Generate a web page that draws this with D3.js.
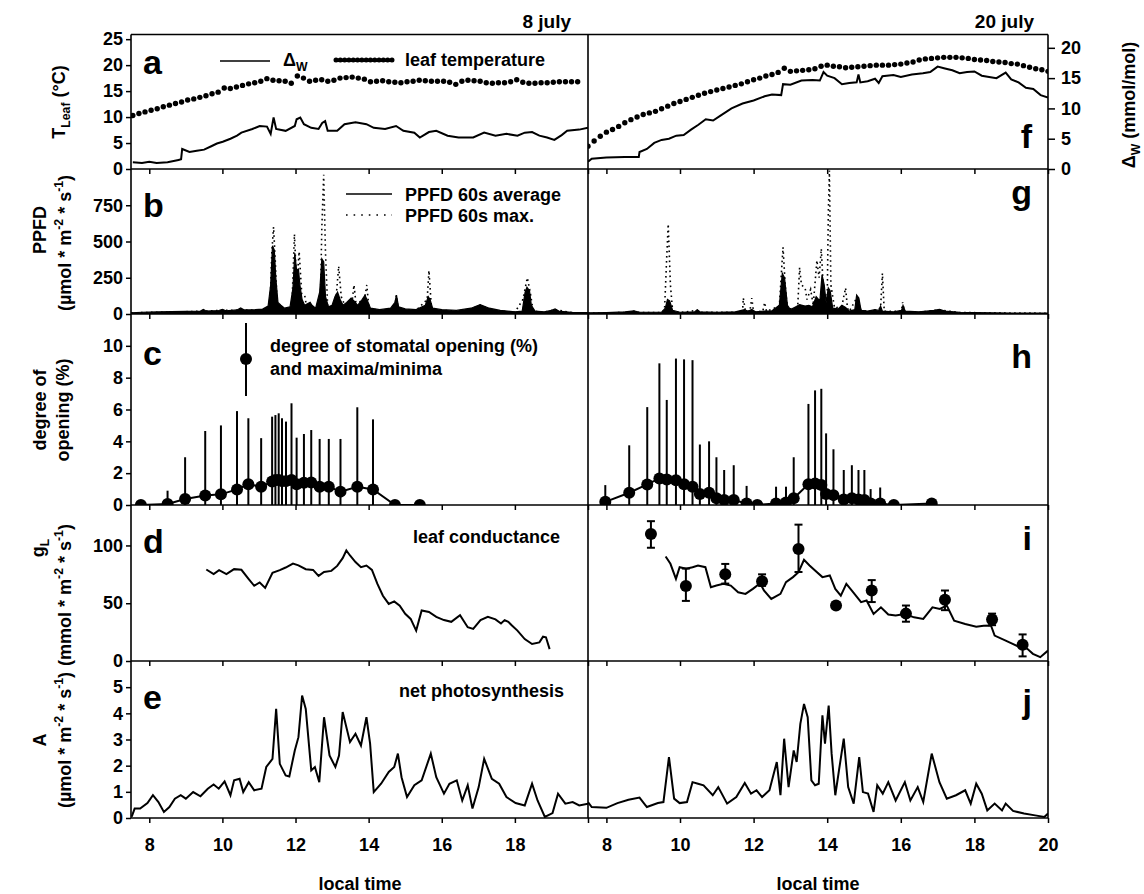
<!DOCTYPE html>
<html>
<head>
<meta charset="utf-8">
<script src="https://cdn.jsdelivr.net/npm/d3@7"></script>
<style>
  body { margin: 0; background: #fff; }
  svg text { font-family: "Liberation Sans", Arial, sans-serif; font-weight: bold; fill: #000; }
</style>
</head>
<body>
<svg id="chart" width="1144" height="894"></svg>
<script>
// ---- ticks ----
const xTicks = [8, 10, 12, 14, 16, 18, 20];
const tLeafTicks = [0, 5, 10, 15, 20, 25];
const dwTicks = [0, 5, 10, 15, 20];
const ppfdTicks = [0, 250, 500, 750];
const openTicks = [0, 2, 4, 6, 8, 10];
const gTicks = [0, 50, 100];
const aTicks = [0, 1, 2, 3, 4, 5];

// ---- leaf temperature, one reading every 10 min ----
const leafTempStep = 1 / 6;
const leafTempStartJul8 = 7.55;
const leafTempStartJul20 = 7.5;
const leafTempJul8 = [10.3, 10.7, 11.0, 11.3, 11.6, 12.0, 12.3, 12.6, 12.9, 13.3,
  13.5, 13.8, 14.1, 14.5, 14.8, 15.6, 15.5, 15.8, 16.1, 16.4,
  16.6, 16.9, 17.4, 17.1, 17.0, 16.9, 16.5, 17.9, 17.5, 16.9,
  17.1, 17.2, 16.9, 17.1, 17.5, 17.6, 17.7, 17.5, 17.3, 16.8,
  16.9, 17.0, 16.8, 16.7, 16.6, 16.8, 16.9, 17.1, 17.0, 16.9,
  16.9, 16.9, 16.7, 16.3, 16.9, 17.1, 17.0, 16.9, 16.6, 16.5,
  16.6, 16.6, 16.8, 17.2, 16.7, 16.5, 16.5, 16.6, 16.6, 16.7,
  16.8, 16.8, 16.8, 16.8];
const leafTempJul20 = [4.4, 5.4, 6.3, 7.1, 7.6, 8.2, 8.9, 9.5, 10.0, 10.5,
  10.8, 11.1, 11.6, 12.1, 12.6, 13.0, 13.4, 13.8, 14.2, 14.6,
  14.9, 15.2, 15.5, 15.8, 16.1, 16.4, 16.8, 17.2, 17.5, 17.9,
  18.2, 18.6, 19.4, 18.8, 18.9, 19.0, 19.1, 19.3, 19.8, 20.0,
  19.8, 19.7, 19.5, 19.6, 19.7, 19.8, 19.9, 20.0, 20.0, 20.0,
  20.1, 20.2, 20.4, 20.6, 21.0, 21.2, 21.3, 21.4, 21.5, 21.5,
  21.5, 21.4, 21.3, 21.1, 21.0, 20.9, 20.7, 20.6, 20.5, 20.3,
  20.2, 19.9, 19.6, 19.3, 19.1, 18.8];

// ---- leaf-to-air water vapour difference [time h, mmol/mol] ----
const dwJul8 = [[7.55, 1.1], [7.8, 1.0], [8.0, 1.2], [8.2, 1.0], [8.5, 1.1], [8.8, 1.5], [8.87, 1.6], [8.9, 3.3],
  [9.1, 2.8], [9.3, 3.0], [9.5, 3.2], [9.71, 3.8], [9.85, 4.2], [10.01, 4.5], [10.22, 5.0], [10.4, 5.5],
  [10.52, 6.0], [10.82, 6.6], [11.02, 7.1], [11.22, 7.0], [11.32, 5.8], [11.4, 8.5], [11.47, 6.6], [11.73, 6.3],
  [11.98, 7.1], [12.03, 8.2], [12.13, 8.5], [12.23, 7.4], [12.43, 6.8], [12.63, 6.6], [12.73, 7.6], [12.81, 7.9],
  [12.88, 6.3], [13.14, 6.3], [13.34, 7.4], [13.64, 7.7], [13.94, 7.4], [14.14, 6.8], [14.45, 6.6], [14.75, 7.1],
  [14.95, 6.3], [15.25, 6.0], [15.4, 5.2], [15.65, 6.1], [15.85, 6.3], [16.16, 5.5], [16.46, 5.2], [16.86, 5.2],
  [17.16, 6.0], [17.47, 5.5], [17.77, 5.8], [18.07, 5.5], [18.27, 6.0], [18.47, 6.1], [18.67, 5.5], [18.88, 5.2],
  [19.08, 4.8], [19.28, 5.6], [19.43, 6.3], [19.76, 6.5], [20.0, 6.8]];
const dwJul20 = [[7.5, 1.2], [7.6, 1.7], [8.0, 1.9], [8.5, 2.0], [8.88, 2.0], [8.9, 2.8], [9.1, 3.3], [9.3, 4.3],
  [9.5, 4.8], [9.7, 5.0], [9.9, 5.5], [10.1, 5.6], [10.3, 6.5], [10.5, 7.3], [10.7, 8.2], [10.9, 8.0],
  [11.1, 8.8], [11.4, 10.0], [11.7, 10.8], [12.0, 11.3], [12.3, 12.0], [12.5, 12.3], [12.75, 12.2], [12.8, 14.0],
  [13.0, 13.9], [13.3, 14.6], [13.6, 14.7], [13.8, 14.6], [13.9, 16.0], [14.0, 15.4], [14.2, 15.0], [14.4, 14.0],
  [14.6, 14.2], [14.8, 14.3], [14.85, 15.6], [14.9, 14.3], [15.1, 14.5], [15.3, 14.9], [15.4, 14.2], [15.5, 15.3],
  [15.8, 15.5], [16.0, 15.2], [16.3, 15.6], [16.6, 15.8], [16.8, 16.0], [17.0, 16.9], [17.2, 16.6], [17.4, 16.3],
  [17.6, 15.8], [17.8, 16.0], [18.0, 16.1], [18.2, 15.4], [18.4, 15.2], [18.6, 15.0], [18.85, 15.9], [19.0, 14.8],
  [19.2, 14.3], [19.4, 13.4], [19.6, 13.2], [19.8, 12.2], [20.0, 11.8]];

// ---- PPFD 60 s average and 60 s maximum [time h, umol m-2 s-1] ----
const ppfdAvgJul8 = [[7.5, 8], [7.8, 12], [8.2, 14], [8.6, 16], [9.0, 18], [9.4, 20], [9.48, 32], [9.55, 20],
  [9.9, 24], [10.0, 32], [10.1, 22], [10.4, 28], [10.5, 42], [10.6, 28], [10.9, 30], [11.1, 34], [11.25, 55],
  [11.32, 200], [11.37, 470], [11.42, 440], [11.46, 250], [11.52, 80], [11.6, 60], [11.7, 40], [11.85, 50],
  [11.93, 180], [11.98, 420], [12.03, 300], [12.08, 310], [12.12, 200], [12.18, 100], [12.25, 60], [12.4, 80],
  [12.45, 60], [12.55, 40], [12.66, 150], [12.72, 380], [12.77, 360], [12.82, 120], [12.9, 50], [13.0, 60],
  [13.08, 120], [13.15, 150], [13.22, 100], [13.3, 60], [13.4, 80], [13.52, 110], [13.6, 90], [13.7, 60],
  [13.82, 100], [13.9, 130], [13.97, 90], [14.05, 40], [14.3, 30], [14.6, 40], [14.72, 80], [14.76, 130],
  [14.82, 50], [15.0, 35], [15.3, 30], [15.55, 60], [15.63, 120], [15.68, 100], [15.75, 40], [16.0, 30],
  [16.4, 25], [16.8, 40], [17.05, 65], [17.3, 40], [17.6, 25], [18.0, 15], [18.2, 20], [18.28, 150],
  [18.33, 185], [18.4, 160], [18.45, 60], [18.55, 20], [18.8, 15], [19.0, 25], [19.1, 35], [19.2, 20],
  [19.6, 10], [20.0, 10]];
const ppfdMaxJul8 = [[7.5, 8], [9.0, 16], [10.0, 25], [11.0, 28], [11.3, 30], [11.35, 420], [11.4, 600],
  [11.45, 350], [11.5, 60], [11.7, 35], [11.9, 40], [11.97, 550], [12.03, 200], [12.1, 430], [12.17, 140],
  [12.25, 130], [12.3, 55], [12.55, 35], [12.68, 80], [12.72, 600], [12.77, 960], [12.82, 420], [12.88, 45],
  [13.0, 55], [13.1, 80], [13.18, 330], [13.25, 120], [13.35, 60], [13.55, 90], [13.6, 200], [13.65, 80],
  [13.88, 90], [13.95, 200], [14.0, 60], [14.05, 35], [14.3, 25], [14.6, 35], [14.72, 60], [14.76, 130],
  [14.8, 45], [15.0, 30], [15.3, 25], [15.6, 100], [15.65, 300], [15.72, 35], [16.0, 25], [16.4, 20],
  [16.8, 35], [17.05, 60], [17.3, 35], [17.6, 20], [18.0, 12], [18.22, 100], [18.34, 250], [18.42, 150],
  [18.5, 20], [18.8, 12], [19.1, 30], [19.6, 8], [20.0, 8]];
const ppfdAvgJul20 = [[7.5, 8], [8.0, 10], [8.5, 14], [8.75, 22], [8.9, 12], [9.5, 12], [9.6, 40], [9.66, 100],
  [9.72, 90], [9.8, 25], [10.0, 12], [10.4, 15], [10.47, 30], [10.55, 14], [11.0, 12], [11.5, 15], [11.75, 30],
  [11.85, 18], [11.95, 32], [12.05, 15], [12.3, 20], [12.5, 22], [12.7, 60], [12.78, 280], [12.84, 250],
  [12.92, 60], [13.0, 30], [13.15, 50], [13.25, 65], [13.4, 55], [13.5, 60], [13.6, 50], [13.7, 120],
  [13.8, 90], [13.86, 270], [13.92, 200], [13.97, 80], [14.03, 180], [14.08, 160], [14.15, 40], [14.3, 35],
  [14.4, 60], [14.5, 45], [14.6, 20], [14.75, 30], [14.8, 130], [14.86, 110], [14.92, 25], [15.1, 20],
  [15.3, 30], [15.4, 25], [15.45, 55], [15.5, 20], [15.8, 15], [16.02, 25], [16.06, 60], [16.12, 20],
  [16.5, 15], [16.9, 25], [17.05, 32], [17.2, 20], [17.6, 12], [18.0, 10], [18.5, 8], [19.0, 7], [20.0, 6]];
const ppfdMaxJul20 = [[7.5, 6], [8.5, 10], [8.75, 18], [8.9, 10], [9.5, 10], [9.58, 30], [9.64, 400],
  [9.68, 620], [9.74, 200], [9.8, 20], [10.0, 10], [10.47, 25], [10.55, 12], [11.5, 12], [11.7, 20],
  [11.72, 110], [11.78, 18], [11.9, 20], [11.95, 110], [12.0, 15], [12.25, 18], [12.3, 80], [12.35, 18],
  [12.7, 55], [12.76, 300], [12.8, 460], [12.86, 200], [12.92, 30], [13.15, 45], [13.2, 60], [13.25, 320],
  [13.3, 200], [13.4, 180], [13.45, 100], [13.55, 170], [13.62, 60], [13.72, 370], [13.78, 250],
  [13.84, 450], [13.9, 150], [14.0, 100], [14.03, 700], [14.06, 990], [14.1, 200], [14.2, 40], [14.4, 55],
  [14.45, 120], [14.5, 180], [14.55, 40], [14.6, 18], [14.8, 110], [14.85, 80], [14.92, 25], [15.2, 18],
  [15.45, 40], [15.5, 280], [15.55, 18], [16.02, 20], [16.05, 80], [16.1, 18], [16.5, 12], [17.05, 28],
  [17.6, 10], [20.0, 5]];

// ---- degree of stomatal opening [time h, mean %, min %, max %] ----
const openJul8 = [[7.77, 0, 0, 0], [8.5, 0.06, 0, 0.9], [8.98, 0.38, 0, 3.0], [9.53, 0.59, 0, 4.65],
  [9.96, 0.67, 0, 5.0], [10.4, 0.98, 0, 5.9], [10.71, 1.3, 0, 5.45], [11.06, 1.15, 0, 4.2],
  [11.36, 1.47, 0, 5.55], [11.45, 1.57, 0, 5.65], [11.54, 1.57, 0, 5.76], [11.63, 1.5, 0, 5.45],
  [11.74, 1.5, 0, 5.24], [11.89, 1.57, 0, 6.39], [12.03, 1.3, 0, 4.23], [12.23, 1.4, 0, 4.46],
  [12.43, 1.42, 0, 4.71], [12.66, 1.15, 0, 4.15], [12.91, 1.15, 0, 4.15], [13.23, 0.84, 0, 4.15],
  [13.69, 1.15, 0, 6.14], [14.12, 0.98, 0, 5.38], [14.72, 0, 0, 0], [15.4, 0, 0, 0]];
const openJul20 = [[7.97, 0.2, 0, 1.25], [8.62, 0.77, 0, 3.75], [9.11, 1.29, 0, 6.15], [9.44, 1.67, 0, 8.9],
  [9.64, 1.6, 0, 6.6], [9.89, 1.56, 0, 9.2], [10.11, 1.31, 0, 9.15], [10.34, 1.15, 0, 9.1],
  [10.54, 0.69, 0, 3.8], [10.79, 0.77, 0, 4.0], [10.99, 0.42, 0, 3.0], [11.2, 0.31, 0, 2.2],
  [11.46, 0.31, 0, 2.5], [11.81, 0.1, 0, 1.2], [12.1, 0, 0, 0], [12.61, 0.1, 0, 1.15],
  [12.88, 0.15, 0, 1.15], [13.09, 0.42, 0, 3.0], [13.49, 1.31, 0, 6.35], [13.67, 1.35, 0, 7.2],
  [13.84, 1.25, 0, 7.3], [13.97, 0.69, 0, 4.5], [14.17, 0.62, 0, 3.5], [14.45, 0.35, 0, 2.2],
  [14.67, 0.42, 0, 2.5], [14.85, 0.35, 0, 2.2], [15.01, 0.31, 0, 2.2], [15.18, 0.1, 0, 1.0],
  [15.44, 0.1, 0, 1.1], [15.81, 0, 0, 0], [16.84, 0.1, 0, 0]];

// ---- leaf conductance [time h, mmol m-2 s-1] ----
const gJul8 = [[9.56, 79.2], [9.76, 75.2], [9.91, 78.6], [10.11, 75.2], [10.32, 79.5], [10.52, 78.9],
  [10.72, 70.9], [10.87, 65.1], [11.02, 68.0], [11.17, 63.3], [11.37, 76.4], [11.57, 78.6], [11.73, 80.9],
  [11.93, 84.3], [12.08, 82.8], [12.28, 79.4], [12.48, 78.8], [12.63, 73.7], [12.78, 77.1], [12.98, 78.0],
  [13.14, 82.3], [13.29, 89.0], [13.39, 95.6], [13.49, 91.3], [13.64, 85.6], [13.79, 81.2], [13.94, 82.6],
  [14.09, 78.8], [14.24, 66.7], [14.39, 56.5], [14.55, 49.4], [14.7, 51.6], [14.85, 47.9], [15.0, 40.8],
  [15.15, 36.4], [15.3, 26.3], [15.45, 43.7], [15.65, 42.4], [15.85, 38.2], [16.06, 35.4], [16.26, 33.9],
  [16.5, 39.6], [16.71, 29.2], [16.86, 27.8], [17.06, 35.4], [17.26, 38.2], [17.47, 36.0], [17.62, 32.5],
  [17.72, 35.4], [17.82, 33.9], [17.92, 30.7], [18.07, 26.3], [18.27, 19.0], [18.47, 14.7], [18.67, 16.1],
  [18.77, 21.0], [18.85, 20.5], [18.95, 10.3]];
const gJul20 = [[9.61, 90.5], [9.74, 84.1], [9.89, 71.1], [9.99, 81.2], [10.17, 79.8], [10.34, 81.2],
  [10.49, 82.7], [10.69, 81.2], [10.84, 63.9], [10.99, 65.3], [11.18, 66.8], [11.38, 65.3], [11.58, 59.5],
  [11.78, 58.1], [11.98, 62.4], [12.18, 67.3], [12.28, 61.0], [12.48, 53.7], [12.73, 58.1], [12.88, 68.2],
  [13.07, 72.6], [13.22, 76.9], [13.37, 87.6], [13.52, 82.7], [13.67, 78.3], [13.87, 72.6], [14.07, 74.0],
  [14.22, 62.4], [14.37, 56.6], [14.52, 66.8], [14.67, 61.0], [14.92, 50.9], [15.07, 52.3], [15.26, 40.7],
  [15.46, 46.5], [15.66, 40.2], [15.86, 39.3], [16.11, 40.7], [16.36, 37.8], [16.61, 36.4], [16.86, 46.5],
  [17.06, 45.0], [17.25, 47.9], [17.45, 34.9], [17.75, 32.0], [18.05, 29.7], [18.25, 30.6], [18.45, 30.7],
  [18.55, 22.0], [18.85, 17.7], [19.04, 14.8], [19.24, 11.9], [19.44, 10.5], [19.59, 6.2], [19.79, 3.3],
  [20.0, 9.0]];
// porometer readings on 20 july [time h, mean, low, high]
const gPointsJul20 = [[9.21, 110, 98, 121], [10.16, 65, 52, 80], [11.23, 75, 67, 84], [12.23, 69, 65, 75],
  [13.22, 97, 77, 118], [14.24, 48, 48, 48], [15.21, 61, 51, 70], [16.14, 41, 34, 48], [17.2, 53, 44, 61],
  [18.48, 36, 31, 41], [19.31, 14, 4, 23]];

// ---- net photosynthesis [time h, umol m-2 s-1] ----
const aJul8 = [[7.52, 0.05], [7.6, 0.36], [7.75, 0.36], [7.95, 0.57], [8.1, 0.87], [8.25, 0.61], [8.4, 0.23],
  [8.55, 0.42], [8.7, 0.74], [8.86, 0.87], [9.0, 0.74], [9.2, 0.99], [9.4, 0.83], [9.6, 1.12], [9.76, 1.28],
  [9.9, 1.12], [10.06, 1.4], [10.22, 0.87], [10.32, 1.44], [10.47, 1.5], [10.57, 0.99], [10.72, 1.37],
  [10.87, 1.06], [11.07, 1.12], [11.2, 1.95], [11.37, 2.26], [11.47, 4.17], [11.57, 2.07], [11.73, 1.63],
  [11.83, 1.59], [11.98, 2.58], [12.08, 3.09], [12.18, 4.68], [12.28, 4.17], [12.43, 1.82], [12.53, 1.95],
  [12.65, 1.37], [12.78, 3.85], [12.93, 2.39], [13.09, 1.95], [13.19, 2.39], [13.29, 4.05], [13.49, 2.9],
  [13.64, 3.22], [13.79, 2.77], [13.94, 3.85], [14.04, 2.84], [14.14, 0.99], [14.34, 1.31], [14.55, 1.76],
  [14.7, 1.95], [14.8, 2.46], [14.9, 1.56], [15.05, 0.8], [15.25, 1.25], [15.45, 1.44], [15.7, 2.46],
  [15.85, 1.56], [16.06, 0.93], [16.21, 1.31], [16.41, 1.44], [16.56, 0.67], [16.71, 1.25], [16.84, 0.36],
  [17.01, 1.18], [17.16, 2.26], [17.37, 1.5], [17.57, 1.31], [17.77, 0.8], [18.02, 0.57], [18.27, 0.48],
  [18.47, 1.31], [18.62, 0.67], [18.82, 0.04], [19.03, 0.19], [19.18, 0.93], [19.38, 0.55], [19.58, 0.61],
  [19.76, 0.48], [20.0, 0.55]];
const aJul20 = [[7.5, 0.61], [7.6, 0.42], [8.0, 0.39], [8.3, 0.57], [8.6, 0.7], [8.9, 0.78], [9.1, 0.42],
  [9.4, 0.57], [9.55, 0.61], [9.7, 2.33], [9.84, 0.74], [9.99, 0.57], [10.19, 0.61], [10.34, 1.37],
  [10.49, 1.31], [10.64, 1.25], [10.89, 0.87], [11.04, 1.18], [11.28, 0.55], [11.53, 0.8], [11.76, 1.34],
  [11.93, 0.93], [12.08, 1.06], [12.23, 0.8], [12.43, 1.06], [12.63, 2.14], [12.73, 0.87], [12.83, 3.03],
  [12.95, 1.18], [13.09, 2.58], [13.17, 2.14], [13.27, 3.6], [13.37, 4.36], [13.47, 3.85], [13.57, 1.44],
  [13.67, 1.25], [13.77, 1.31], [13.87, 3.92], [13.94, 2.84], [14.04, 4.3], [14.12, 2.46], [14.22, 0.87],
  [14.32, 1.82], [14.45, 3.03], [14.57, 1.18], [14.72, 0.55], [14.87, 2.33], [14.97, 0.99], [15.11, 0.93],
  [15.26, 0.23], [15.36, 1.25], [15.51, 0.93], [15.66, 1.37], [15.86, 0.67], [16.11, 1.37], [16.26, 0.67],
  [16.46, 1.18], [16.61, 0.61], [16.84, 2.46], [17.05, 1.37], [17.25, 0.74], [17.5, 0.87], [17.75, 1.06],
  [17.9, 0.55], [18.05, 1.31], [18.2, 0.93], [18.35, 0.29], [18.55, 0.55], [18.75, 0.29], [18.85, 0.55],
  [19.05, 0.27], [19.35, 0.17], [19.65, 0.1], [19.9, 0.04], [20.0, 0.17]];

// ---- layout ----
const left = 131, mid = 588, right = 1048;
const rowEdges = [34.5, 169, 314, 505, 661, 818];
const FS = 18;
const intFmt = d3.format('d');

const svg = d3.select('#chart');

const yT = d3.scaleLinear().domain([0, 25.9]).range([rowEdges[1], rowEdges[0]]);
const yDw = d3.scaleLinear().domain([0, 22.2]).range([rowEdges[1], rowEdges[0]]);
const yP = d3.scaleLinear().domain([0, 1000]).range([rowEdges[2], rowEdges[1]]);
const yO = d3.scaleLinear().domain([0, 12]).range([rowEdges[3], rowEdges[2]]);
const yG = d3.scaleLinear().domain([0, 135]).range([rowEdges[4], rowEdges[3]]);
const yA = d3.scaleLinear().domain([0, 6]).range([rowEdges[5], rowEdges[4]]);

const days = [
  { id: 'l', x: d3.scaleLinear().domain([7.5, 20]).range([left, mid]),
    temp: leafTempJul8, tempStart: leafTempStartJul8, dw: dwJul8,
    ppfdAvg: ppfdAvgJul8, ppfdMax: ppfdMaxJul8, open: openJul8, g: gJul8, gPts: [], a: aJul8 },
  { id: 'r', x: d3.scaleLinear().domain([7.5, 20]).range([mid, right]),
    temp: leafTempJul20, tempStart: leafTempStartJul20, dw: dwJul20,
    ppfdAvg: ppfdAvgJul20, ppfdMax: ppfdMaxJul20, open: openJul20, g: gJul20, gPts: gPointsJul20, a: aJul20 },
];

const defs = svg.append('defs');

function richText(sel, parts, size) {
  let shift = 0;
  parts.forEach(([s, kind]) => {
    const target = kind === 'sub' ? 0.28 * size : kind === 'sup' ? -0.42 * size : 0;
    sel.append('tspan')
      .attr('dy', target - shift)
      .attr('font-size', kind ? size * 0.68 : size)
      .text(s);
    shift = target;
  });
  return sel;
}

function vLabel(x, y, parts) {
  const t = svg.append('text')
    .attr('transform', `translate(${x},${y}) rotate(-90)`)
    .attr('text-anchor', 'middle')
    .attr('font-size', FS);
  richText(t, parts, FS);
}

function label(x, y, txt, size, anchor) {
  return svg.append('text').attr('x', x).attr('y', y)
    .attr('font-size', size).attr('text-anchor', anchor || 'start').text(txt);
}

function styleAxis(g) {
  g.select('.domain').remove();
  g.selectAll('line').attr('stroke-width', 1.5);
  g.selectAll('text').attr('font-size', FS).attr('font-family', null);
}

// ---- draw each day ----
days.forEach(day => {
  const x = day.x;
  const [x0, x1] = x.range();
  const panels = rowEdges.slice(0, 5).map((top, i) => {
    const id = `clip-${day.id}-${i}`;
    defs.append('clipPath').attr('id', id).append('rect')
      .attr('x', x0).attr('y', top).attr('width', x1 - x0).attr('height', rowEdges[i + 1] - top);
    return svg.append('g').attr('clip-path', `url(#${id})`);
  });

  const line = (y) => d3.line().x(d => x(d[0])).y(d => y(d[1]));

  // a / f : delta w and leaf temperature
  panels[0].append('path').datum(day.dw)
    .attr('d', line(yDw)).attr('fill', 'none').attr('stroke', '#000').attr('stroke-width', 2);
  panels[0].selectAll('circle.temp').data(day.temp).join('circle')
    .attr('class', 'temp')
    .attr('cx', (d, i) => x(day.tempStart + i * leafTempStep))
    .attr('cy', d => yT(d)).attr('r', 2.7).attr('fill', '#000');

  // b / g : PPFD
  panels[1].append('path').datum(day.ppfdAvg)
    .attr('d', d3.area().x(d => x(d[0])).y0(yP(0)).y1(d => yP(d[1])))
    .attr('fill', '#000').attr('stroke', '#000').attr('stroke-width', 1.2);
  panels[1].append('path').datum(day.ppfdMax)
    .attr('d', line(yP)).attr('fill', 'none').attr('stroke', '#000')
    .attr('stroke-width', 1.6).attr('stroke-dasharray', '1.6 3.4');

  // c / h : stomatal opening
  panels[2].selectAll('line.bar').data(day.open.filter(d => d[3] > d[2])).join('line')
    .attr('class', 'bar')
    .attr('x1', d => x(d[0])).attr('x2', d => x(d[0]))
    .attr('y1', d => yO(d[2])).attr('y2', d => yO(d[3]))
    .attr('stroke', '#000').attr('stroke-width', 2);
  panels[2].append('path').datum(day.open)
    .attr('d', line(yO)).attr('fill', 'none').attr('stroke', '#000').attr('stroke-width', 2);
  panels[2].selectAll('circle.open').data(day.open).join('circle')
    .attr('class', 'open')
    .attr('cx', d => x(d[0])).attr('cy', d => yO(d[1])).attr('r', 6)
    .attr('fill', '#000');

  // d / i : leaf conductance
  panels[3].append('path').datum(day.g)
    .attr('d', line(yG)).attr('fill', 'none').attr('stroke', '#000').attr('stroke-width', 2);
  const gp = panels[3].selectAll('g.gp').data(day.gPts).join('g').attr('class', 'gp');
  gp.filter(d => d[3] > d[2]).each(function (d) {
    const g = d3.select(this), cx = x(d[0]);
    g.append('line').attr('x1', cx).attr('x2', cx).attr('y1', yG(d[2])).attr('y2', yG(d[3]))
      .attr('stroke', '#000').attr('stroke-width', 2);
    [d[2], d[3]].forEach(v => g.append('line')
      .attr('x1', cx - 4).attr('x2', cx + 4).attr('y1', yG(v)).attr('y2', yG(v))
      .attr('stroke', '#000').attr('stroke-width', 2));
  });
  gp.append('circle').attr('cx', d => x(d[0])).attr('cy', d => yG(d[1])).attr('r', 6).attr('fill', '#000');

  // e / j : net photosynthesis
  panels[4].append('path').datum(day.a)
    .attr('d', line(yA)).attr('fill', 'none').attr('stroke', '#000').attr('stroke-width', 2);

  // x ticks at the bottom of every row, labels only under the last one
  rowEdges.slice(1).forEach((yb, i) => {
    const last = i === 4;
    const ax = d3.axisBottom(x).tickValues(xTicks).tickSize(5).tickPadding(15)
      .tickFormat(d => (!last || (day.id === 'l' && d === 20)) ? '' : intFmt(d));
    svg.append('g').attr('transform', `translate(0,${yb})`).call(ax).call(styleAxis);
  });
});

// ---- y axes ----
function leftAxis(y, ticks) {
  svg.append('g').attr('transform', `translate(${left},0)`)
    .call(d3.axisLeft(y).tickValues(ticks).tickSize(5).tickPadding(3).tickFormat(intFmt))
    .call(styleAxis);
}
leftAxis(yT, tLeafTicks);
leftAxis(yP, ppfdTicks);
leftAxis(yO, openTicks);
leftAxis(yG, gTicks);
leftAxis(yA, aTicks);

svg.append('g').attr('transform', `translate(${right},0)`)
  .call(d3.axisRight(yDw).tickValues(dwTicks).tickSize(7).tickPadding(6).tickFormat(intFmt))
  .call(styleAxis);

// ---- frame ----
const frame = svg.append('g').attr('stroke', '#000').attr('stroke-width', 1.6);
[left, mid, right].forEach(xv => frame.append('line')
  .attr('x1', xv).attr('x2', xv).attr('y1', rowEdges[0]).attr('y2', rowEdges[5]));
rowEdges.forEach(yv => frame.append('line')
  .attr('x1', left).attr('x2', right).attr('y1', yv).attr('y2', yv));

// ---- titles and axis titles ----
label(571, 28, '8 july', 19, 'end');
label(1034, 28, '20 july', 19, 'end');
label(360, 890, 'local time', FS, 'middle');
label(818, 890, 'local time', FS, 'middle');

vLabel(65, 102, [['T'], ['Leaf', 'sub'], [' (°C)']]);
vLabel(1135, 105, [['Δ'], ['W', 'sub'], [' (mmol/mol)']]);
vLabel(46, 230, [['PPFD']]);
vLabel(71, 243, [['(µmol * m'], ['-2', 'sup'], [' * s'], ['-1', 'sup'], [')']]);
vLabel(46, 410, [['degree of']]);
vLabel(69, 410, [['opening (%)']]);
vLabel(44, 548, [['g'], ['L', 'sub']]);
vLabel(71, 595, [['(mmol * m'], ['-2', 'sup'], [' * s'], ['-1', 'sup'], [')']]);
vLabel(46, 740, [['A']]);
vLabel(71, 740, [['(µmol * m'], ['-2', 'sup'], [' * s'], ['-1', 'sup'], [')']]);

// panel letters
const letters = [['a', 74], ['b', 217], ['c', 365], ['d', 553], ['e', 709]];
const lettersR = [['f', 148], ['g', 204], ['h', 368], ['i', 550], ['j', 713]];
letters.forEach(([s, yb]) => label(143, yb, s, 34));
lettersR.forEach(([s, yb]) => label(1032, yb, s, 34, 'end'));

// ---- legends ----
svg.append('line').attr('x1', 220).attr('x2', 270).attr('y1', 61).attr('y2', 61)
  .attr('stroke', '#000').attr('stroke-width', 1.6);
richText(svg.append('text').attr('x', 283).attr('y', 66).attr('font-size', FS), [['Δ'], ['W', 'sub']], FS);
svg.append('line').attr('x1', 336).attr('x2', 396).attr('y1', 60).attr('y2', 60)
  .attr('stroke', '#000').attr('stroke-width', 5).attr('stroke-linecap', 'round')
  .attr('stroke-dasharray', '0.1 4.2');
label(405, 66, 'leaf temperature', FS);

svg.append('line').attr('x1', 346).attr('x2', 392).attr('y1', 194).attr('y2', 194)
  .attr('stroke', '#000').attr('stroke-width', 1.6);
label(405, 201, 'PPFD 60s average', FS);
svg.append('line').attr('x1', 346).attr('x2', 392).attr('y1', 215).attr('y2', 215)
  .attr('stroke', '#000').attr('stroke-width', 1.6).attr('stroke-dasharray', '1.6 6');
label(405, 222, 'PPFD 60s max.', FS);

svg.append('line').attr('x1', 246).attr('x2', 246).attr('y1', 323).attr('y2', 396)
  .attr('stroke', '#000').attr('stroke-width', 2);
svg.append('circle').attr('cx', 246).attr('cy', 359).attr('r', 6).attr('fill', '#000');
label(270, 352, 'degree of stomatal opening (%)', FS);
label(270, 375, 'and maxima/minima', FS);

label(560, 543, 'leaf conductance', FS, 'end');
label(564, 697, 'net photosynthesis', FS, 'end');
</script>
</body>
</html>
